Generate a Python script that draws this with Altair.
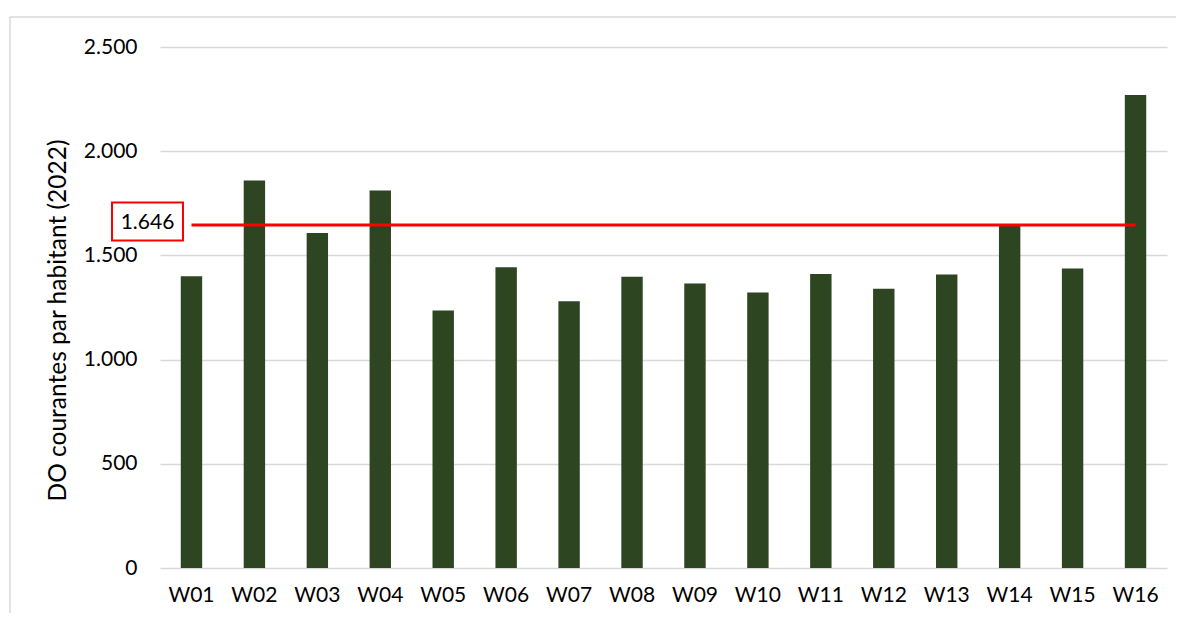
import altair as alt
import pandas as pd

categories = ["W01", "W02", "W03", "W04", "W05", "W06", "W07", "W08",
              "W09", "W10", "W11", "W12", "W13", "W14", "W15", "W16"]
values = [1400, 1860, 1608, 1812, 1236, 1443, 1280, 1397,
          1365, 1322, 1411, 1340, 1408, 1650, 1437, 2270]
average = 1646
y_ticks = [0, 500, 1000, 1500, 2000, 2500]
y_title = "DO courantes par habitant (2022)"

FONT = "Lato"
BAR = "#2D4520"
RED = "#FF0000"
GRID = "#D9D9D9"

df = pd.DataFrame({"cat": categories, "val": values})
avg_df = pd.DataFrame({"cat": categories, "avg": [average] * len(categories)})
label_df = pd.DataFrame({"avg": [average],
                         "txt": [f"{average:,}".replace(",", ".")]})
one = pd.DataFrame({"a": [0]})

yscale = alt.Scale(domain=[0, 2500], nice=False)
xscale = alt.Scale(paddingInner=0.66, paddingOuter=0.33)

yaxis = alt.Axis(values=y_ticks,
                 labelExpr="replace(format(datum.value, ','), ',', '.')",
                 labelFont=FONT, labelFontSize=21, labelColor="#000000",
                 labelPadding=23, ticks=False, domain=False,
                 grid=True, gridColor=GRID, gridWidth=1.4,
                 titleFont=FONT, titleFontSize=24.5,
                 titleFontWeight="normal", titleColor="#000000",
                 titleAngle=-90, titleAlign="center",
                 titleBaseline="middle", titleX=-102, titleY=273)
xaxis = alt.Axis(title=None, labelAngle=0, labelFont=FONT,
                 labelFontSize=21, labelColor="#000000",
                 labelPadding=16, ticks=False, domain=False, grid=False)

bars = alt.Chart(df).mark_bar(color=BAR).encode(
    x=alt.X("cat:N", sort=categories, scale=xscale, axis=xaxis),
    y=alt.Y("val:Q", scale=yscale, axis=yaxis, title=y_title),
)

line = alt.Chart(avg_df).mark_line(color=RED, strokeWidth=3).encode(
    x=alt.X("cat:N", sort=categories, scale=xscale, axis=xaxis),
    y=alt.Y("avg:Q", scale=yscale, axis=yaxis, title=y_title),
)

box = alt.Chart(one).mark_rect(fill="white", stroke=RED, strokeWidth=2).encode(
    x=alt.value(-48), x2=alt.value(23),
    y=alt.value(155.5), y2=alt.value(193.5),
)

label = alt.Chart(label_df).mark_text(
    font=FONT, fontSize=21, color="#000000", align="center",
    baseline="middle", dy=-2
).encode(
    x=alt.value(-12.5),
    y=alt.Y("avg:Q", scale=yscale, axis=yaxis, title=y_title),
    text="txt:N",
)

frame_top = alt.Chart(one).mark_rule(color=GRID, strokeWidth=1.5).encode(
    x=alt.value(-150), x2=alt.value(1020), y=alt.value(-30),
)
frame_left = alt.Chart(one).mark_rule(color=GRID, strokeWidth=1.5).encode(
    x=alt.value(-150), y=alt.value(-30), y2=alt.value(600),
)

chart = alt.layer(frame_top, frame_left, bars, line, box, label).properties(
    width=1007, height=521,
    autosize=alt.AutoSizeParams(type="none"),
    padding={"left": 152, "top": 39, "right": 9, "bottom": 45},
    background="white",
).configure_view(stroke=None)

chart.save("out.html", embed_options={"renderer": "svg", "actions": False})
